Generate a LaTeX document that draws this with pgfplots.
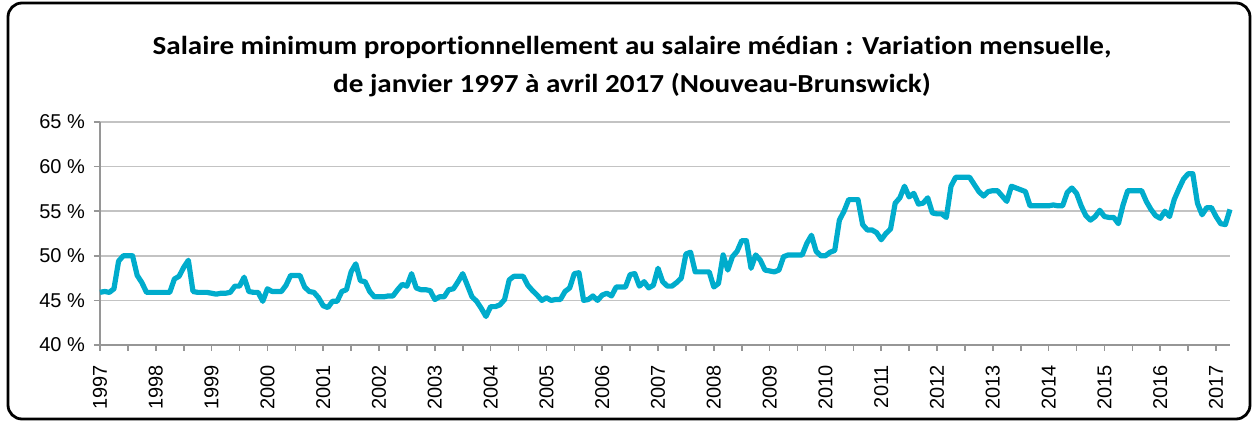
\documentclass[border=0pt]{standalone}
\usepackage{pgfplots}
\pgfplotsset{compat=1.18}
\usepackage{fontspec}
\setmainfont{Liberation Sans}
\newfontfamily\titlefont{Carlito}[FakeStretch=1.12, Ligatures=NoCommon]
\definecolor{linecol}{RGB}{0,172,204}
\definecolor{gridcol}{RGB}{195,195,195}
\definecolor{axiscol}{RGB}{150,150,150}
\begin{document}
\begin{tikzpicture}
% frame
\path[use as bounding box] (0pt,0pt) rectangle (627pt,211.5pt);
\draw[line width=1.4pt, rounded corners=7pt] (4pt,2pt) rectangle (625pt,210pt);
\node[font=\titlefont\bfseries\fontsize{13pt}{14pt}\selectfont] at (316pt,188pt) {Salaire minimum propor\kern0pt t\kern0pt ionnellement au salaire médian : Varia\kern0pt t\kern0pt ion mensuelle,};
\node[font=\titlefont\bfseries\fontsize{13pt}{14pt}\selectfont] at (316pt,169pt) {de janvier 1997 à avril 2017 (Nouveau-Brunswick)};
\begin{axis}[
  at={(50pt,39pt)}, anchor=south west,
  scale only axis, width=565pt, height=111.5pt,
  xmin=0, xmax=243, ymin=40, ymax=65,
  axis line style={axiscol, line width=0.8pt},
  axis x line*=bottom, axis y line*=left,
  ytick={40,45,50,55,60,65},
  yticklabels={40 \%,45 \%,50 \%,55 \%,60 \%,65 \%},
  xtick={0,12,...,240},
  xticklabels={1997,1998,1999,2000,2001,2002,2003,2004,2005,2006,2007,2008,2009,2010,2011,2012,2013,2014,2015,2016,2017},
  minor xtick={6,18,...,234},
  xticklabel style={yshift=-3.5pt, rotate=90, anchor=east, font=\fontsize{10pt}{11pt}\selectfont},
  yticklabel style={xshift=-1pt, font=\fontsize{10pt}{11pt}\selectfont},
  tick style={axiscol, line width=0.8pt},
  tick align=outside,
  major tick length=3pt, minor tick length=3pt,
  ymajorgrids, major grid style={gridcol, line width=0.8pt},
  clip=false,
  /pgf/number format/assume math mode=true,
]
\addplot[linecol, line width=2.6pt, line join=round] table[x expr=\coordindex, y index=0, header=false, row sep=\\] {
45.9\\46.0\\45.9\\46.3\\49.4\\50.0\\50.0\\50.0\\47.8\\47.0\\45.9\\45.9\\
45.9\\45.9\\45.9\\45.9\\47.4\\47.7\\48.7\\49.5\\46.0\\45.9\\45.9\\45.9\\
45.8\\45.7\\45.8\\45.8\\45.9\\46.6\\46.6\\47.6\\46.0\\45.9\\45.9\\44.9\\
46.3\\46.0\\46.0\\46.0\\46.7\\47.8\\47.8\\47.8\\46.5\\46.0\\45.9\\45.3\\
44.4\\44.2\\44.9\\44.9\\46.0\\46.2\\48.2\\49.1\\47.2\\47.1\\46.0\\45.4\\
45.4\\45.4\\45.5\\45.5\\46.2\\46.8\\46.6\\48.0\\46.4\\46.2\\46.2\\46.1\\
45.1\\45.4\\45.4\\46.2\\46.3\\47.1\\48.0\\46.7\\45.4\\44.9\\44.1\\43.2\\
44.3\\44.3\\44.5\\45.1\\47.3\\47.7\\47.7\\47.7\\46.7\\46.1\\45.6\\45.0\\
45.3\\45.0\\45.1\\45.1\\46.0\\46.4\\48.0\\48.1\\45.0\\45.1\\45.5\\45.0\\
45.6\\45.8\\45.5\\46.5\\46.5\\46.5\\47.9\\48.0\\46.6\\47.1\\46.4\\46.7\\
48.6\\47.1\\46.6\\46.6\\47.0\\47.5\\50.2\\50.4\\48.2\\48.2\\48.2\\48.2\\
46.5\\46.9\\50.1\\48.4\\49.9\\50.5\\51.7\\51.7\\48.6\\50.1\\49.5\\48.4\\
48.3\\48.2\\48.4\\49.9\\50.1\\50.1\\50.1\\50.1\\51.4\\52.3\\50.5\\50.0\\
50.0\\50.4\\50.6\\54.0\\55.0\\56.3\\56.3\\56.3\\53.5\\52.9\\52.9\\52.6\\
51.8\\52.5\\53.0\\55.9\\56.5\\57.8\\56.6\\57.0\\55.8\\55.9\\56.5\\54.8\\
54.7\\54.7\\54.3\\57.8\\58.8\\58.8\\58.8\\58.8\\58.0\\57.2\\56.7\\57.2\\
57.3\\57.3\\56.7\\56.1\\57.8\\57.6\\57.4\\57.2\\55.6\\55.6\\55.6\\55.6\\
55.6\\55.7\\55.6\\55.6\\57.1\\57.6\\57.0\\55.6\\54.5\\54.0\\54.4\\55.1\\
54.4\\54.3\\54.3\\53.6\\55.7\\57.3\\57.3\\57.3\\57.3\\56.1\\55.2\\54.5\\
54.2\\55.0\\54.4\\56.3\\57.5\\58.6\\59.2\\59.2\\55.9\\54.6\\55.4\\55.4\\
54.4\\53.6\\53.5\\55.2\\
};
\end{axis}
\end{tikzpicture}
\end{document}
